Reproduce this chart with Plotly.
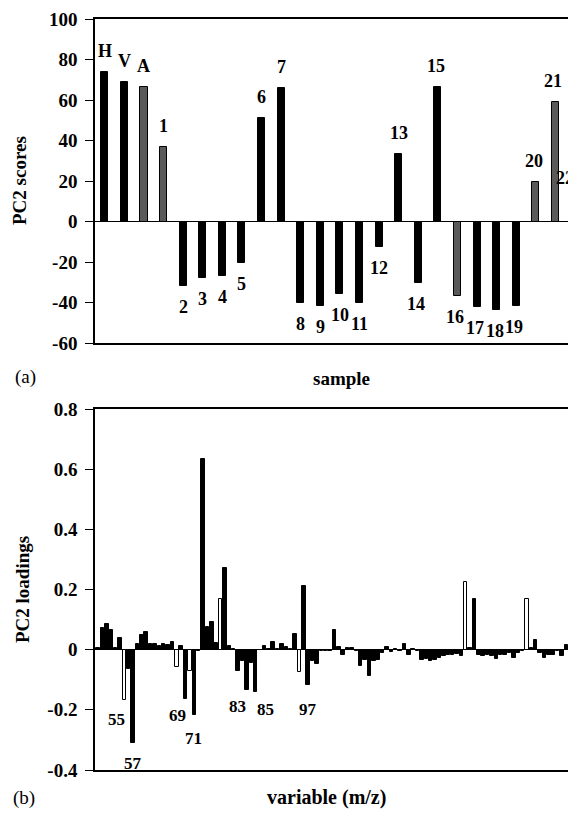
import plotly.graph_objects as go

# ---------------- data ----------------
samples = ["H", "V", "A", "1", "2", "3", "4", "5", "6", "7", "8", "9", "10", "11",
           "12", "13", "14", "15", "16", "17", "18", "19", "20", "21", "22"]
pc2_scores = [74, 69, 66.5, 37, -32, -28, -27, -20.5, 51, 66, -40, -41.5, -35.6, -40,
              -12.7, 33.4, -30.3, 66.4, -37, -42.3, -43.6, -41.5, 19.4, 59, 11.2]

mz = list(range(49, 159))
pc2_loadings = [
    0.006, 0.072, 0.085, 0.067, 0.006, 0.039, -0.168, -0.063, -0.310, 0.019,   # 49-58
    0.050, 0.058, 0.019, 0.019, 0.013, 0.019, 0.014, 0.024, -0.059, 0.013,     # 59-68
    -0.163, -0.072, -0.216, -0.005, 0.633, 0.074, 0.091, 0.022, 0.170, 0.270,  # 69-78
    0.011, 0.002, -0.070, -0.039, -0.133, -0.045, -0.141, 0.000, 0.011, 0.003, # 79-88
    0.024, 0.003, 0.019, 0.008, 0.003, 0.052, -0.074, 0.213, -0.118, -0.037,   # 89-98
    -0.048, -0.006, -0.005, -0.005, 0.067, 0.008, -0.017, 0.005, 0.006, -0.004,# 99-108
    -0.053, -0.033, -0.089, -0.037, -0.033, -0.011, 0.008, -0.008, 0.003, -0.003, # 109-118
    0.019, -0.019, 0.003, -0.003, -0.033, -0.030, -0.039, -0.033, -0.028, -0.022, # 119-128
    -0.019, -0.019, -0.014, -0.020, 0.226, 0.004, 0.170, -0.017, -0.022, -0.019,  # 129-138
    -0.022, -0.030, -0.017, -0.019, -0.011, -0.028, -0.011, -0.005, 0.170, 0.005, # 139-148
    0.033, -0.011, -0.028, -0.019, -0.019, -0.003, -0.022, 0.017, 0.005, 0.002,   # 149-158
]
labelled_mz = [55, 57, 69, 71, 83, 85, 97]

score_ticks = [-60, -40, -20, 0, 20, 40, 60, 80, 100]
loading_ticks = [-0.4, -0.2, 0, 0.2, 0.4, 0.6, 0.8]

# ---------------- styles ----------------
SERIF = "Liberation Serif"
OFF = 8                      # default page margin of the HTML body
W, H = 576 - OFF, 818 - 2 * OFF

def px(x):                   # reference page x -> paper fraction
    return (x - OFF) / W

def py(y):                   # reference page y -> paper fraction
    return 1 - (y - OFF) / H

X1_RANGE = [-0.5, 24.05]

gray_samples = {"A", "1", "16", "20", "21", "22"}
score_colors = ["#5a5a5a" if s in gray_samples else "black" for s in samples]
white_mz = {55, 67, 70, 77, 95, 133, 147}
loading_colors = ["white" if m in white_mz else "black" for m in mz]

fig = go.Figure()

fig.add_trace(go.Bar(
    x=list(range(len(samples))), y=pc2_scores, width=0.36,
    marker=dict(color=score_colors, line=dict(color="black", width=1)),
    xaxis="x", yaxis="y", showlegend=False, hoverinfo="skip"))

fig.add_trace(go.Bar(
    x=mz, y=pc2_loadings, width=0.8,
    marker=dict(color=loading_colors, line=dict(color="black", width=1)),
    xaxis="x2", yaxis="y2", showlegend=False, hoverinfo="skip"))

def fmt(v):
    return "%g" % v

x_dom = [px(95), 1.0]
top_dom = [py(343), py(19)]
bot_dom = [py(770), py(409)]

tickfont = dict(family=SERIF, size=19, color="black", weight="bold")
common_y = dict(showline=True, linecolor="black", linewidth=1.5, ticks="outside",
                ticklen=8, tickwidth=1, tickcolor="black", showgrid=False,
                zeroline=True, zerolinecolor="black", zerolinewidth=1.2,
                tickfont=tickfont, ticklabelstandoff=4, automargin=False)
common_x = dict(showline=True, linecolor="black", linewidth=1.5, mirror=True,
                showticklabels=False, ticks="", showgrid=False, zeroline=False,
                automargin=False)

fig.update_layout(
    width=W, height=H,
    margin=dict(l=0, r=0, t=0, b=0),
    paper_bgcolor="white", plot_bgcolor="white",
    bargap=0,
    xaxis=dict(domain=x_dom, anchor="y", range=X1_RANGE, **common_x),
    yaxis=dict(domain=top_dom, anchor="x", range=[-60, 100],
               tickvals=score_ticks, ticktext=[fmt(v) for v in score_ticks], **common_y),
    xaxis2=dict(domain=x_dom, anchor="y2", range=[48.3, 158.2], **common_x),
    yaxis2=dict(domain=bot_dom, anchor="x2", range=[-0.4, 0.8],
                tickvals=loading_ticks, ticktext=[fmt(v) for v in loading_ticks], **common_y),
)

labfont = dict(family=SERIF, size=18, color="black", weight="bold")
annotations = []
# sample labels at bar ends; the last label is kept inside the right edge
last = len(samples) - 1
for i, (s, v) in enumerate(zip(samples, pc2_scores)):
    annotations.append(dict(
        x=i if i < last else X1_RANGE[1] - 0.02, y=v, xref="x", yref="y", text=s,
        showarrow=False, xanchor="center" if i < last else "right", yanchor="middle",
        yshift=21 if v > 0 else -21,
        xshift=(-2 if i >= 16 else 0) if i < last else 0,
        font=labfont))

# m/z labels
lab_shift = {55: (-8, -13), 57: (0, -15), 69: (-8, -11), 71: (-1, -18),
             83: (-9, -11), 85: (10, -11), 97: (0, -18)}
for m in labelled_mz:
    v = pc2_loadings[mz.index(m)]
    dx, dy = lab_shift[m]
    annotations.append(dict(
        x=m, y=v, xref="x2", yref="y2", text=str(m), showarrow=False,
        xanchor="center", yanchor="middle", xshift=dx, yshift=dy - 6,
        font=dict(family=SERIF, size=17, color="black", weight="bold")))

titlefont = dict(family=SERIF, size=19, color="black", weight="bold")
annotations += [
    dict(x=px(341), y=py(378), xref="paper", yref="paper", text="sample",
         showarrow=False, xanchor="center", yanchor="middle", font=titlefont),
    dict(x=px(326), y=py(797), xref="paper", yref="paper", text="variable (m/z)",
         showarrow=False, xanchor="center", yanchor="middle",
         font=dict(family=SERIF, size=20, color="black", weight="bold")),
    dict(x=px(20), y=py(181), xref="paper", yref="paper", text="PC2 scores",
         showarrow=False, textangle=-90, xanchor="center", yanchor="middle", font=titlefont),
    dict(x=px(22), y=py(590), xref="paper", yref="paper", text="PC2 loadings",
         showarrow=False, textangle=-90, xanchor="center", yanchor="middle", font=titlefont),
    dict(x=px(25), y=py(377), xref="paper", yref="paper", text="(a)",
         showarrow=False, xanchor="center", yanchor="middle",
         font=dict(family=SERIF, size=19, color="black")),
    dict(x=px(24), y=py(798), xref="paper", yref="paper", text="(b)",
         showarrow=False, xanchor="center", yanchor="middle",
         font=dict(family=SERIF, size=19, color="black")),
]
fig.update_layout(annotations=annotations)

fig.write_html("out.html")
